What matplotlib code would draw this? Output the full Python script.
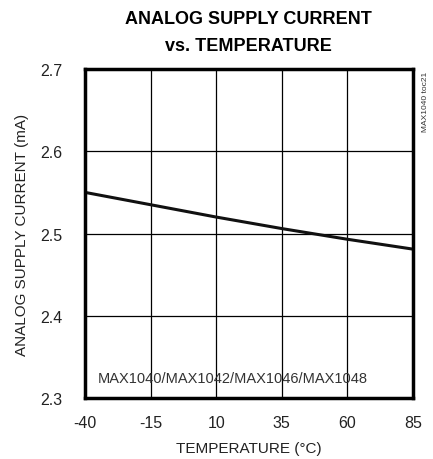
import matplotlib
matplotlib.use("Agg")
import matplotlib.pyplot as plt
from matplotlib import font_manager

temps = [-40, -15, 10, 35, 60, 85]
current = [2.550, 2.535, 2.520, 2.506, 2.493, 2.481]
xticks = [-40, -15, 10, 35, 60, 85]
yticks = [2.3, 2.4, 2.5, 2.6, 2.7]

names = {f.name for f in font_manager.fontManager.ttflist}
fam = "Liberation Sans Narrow" if "Liberation Sans Narrow" in names else "Liberation Sans"
plt.rcParams['font.family'] = [fam, 'DejaVu Sans']

fig = plt.figure(figsize=(4.33, 4.60), dpi=100)
ax = fig.add_axes([0.1963, 0.1326, 0.7575, 0.7152])
ax.plot(temps, current, color='#111111', lw=2.2, solid_capstyle='butt')
ax.set_xlim(-40, 85)
ax.set_ylim(2.3, 2.7)
ax.set_xticks(xticks)
ax.set_yticks(yticks)
ax.set_xticklabels([str(t) for t in xticks])
ax.set_yticklabels([f"{v:.1f}" for v in yticks])
ax.grid(True, color='black', lw=0.9)
ax.tick_params(axis='x', length=0, labelsize=11.5, pad=12, colors='#222222')
ax.tick_params(axis='y', length=0, labelsize=11.5, pad=16, colors='#222222')
for s in ax.spines.values():
    s.set_linewidth(2.5)
    s.set_color('black')
ax.set_xlabel("TEMPERATURE (°C)", fontsize=11, color='#222222', labelpad=8)
ax.set_ylabel("ANALOG SUPPLY CURRENT (mA)", fontsize=11, color='#222222', labelpad=8)
fig.text(0.573, 0.975, "ANALOG SUPPLY CURRENT\nvs. TEMPERATURE", ha='center', va='top',
         fontsize=13, fontweight='bold', linespacing=1.75)
ax.text(0.04, 0.04, "MAX1040/MAX1042/MAX1046/MAX1048", transform=ax.transAxes,
        fontsize=10.5, color='#333333', ha='left', va='bottom')
fig.text(0.982, 0.845, "MAX1040 toc21", rotation=90, ha='center', va='top', fontsize=6, color='#333333')
fig.savefig("out.png", dpi=100)
